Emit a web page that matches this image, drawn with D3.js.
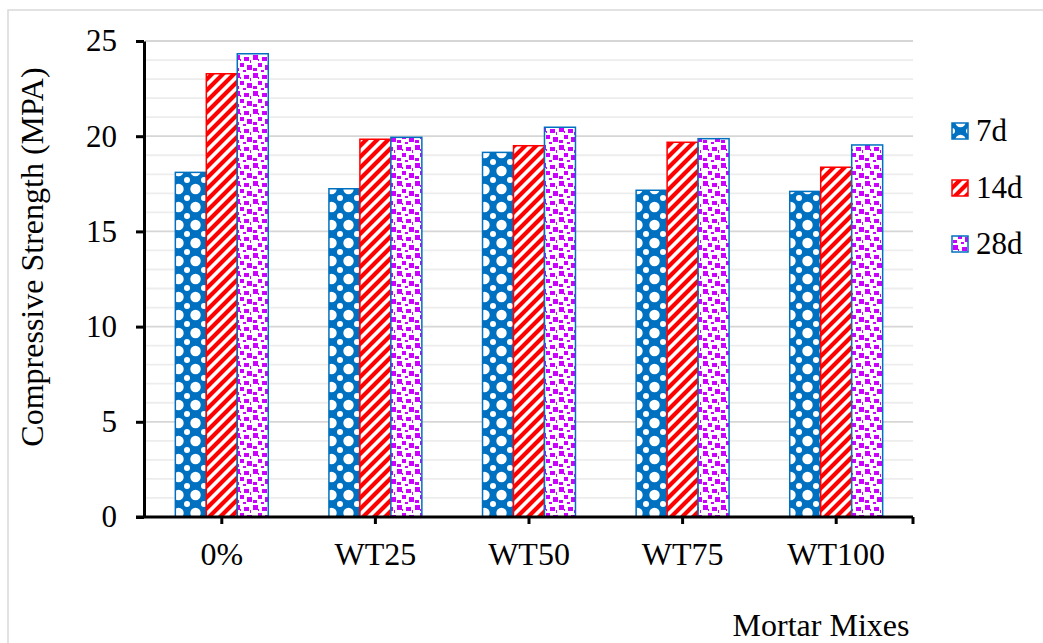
<!DOCTYPE html>
<html>
<head>
<meta charset="utf-8">
<script src="https://cdn.jsdelivr.net/npm/d3@7"></script>
<style>
  body { margin: 0; background: #fff; }
</style>
</head>
<body>
<svg id="main-svg" width="1043" height="643" font-family="Liberation Serif, Times New Roman, serif"></svg>
<script>
// data
const mixes = ["0%", "WT25", "WT50", "WT75", "WT100"];
const series = ["7d", "14d", "28d"];
const strength7d = [18.1, 17.24, 19.15, 17.16, 17.1];
const strength14d = [23.28, 19.84, 19.5, 19.68, 18.37];
const strength28d = [24.33, 19.94, 20.47, 19.87, 19.54];
const yTicks = [0, 5, 10, 15, 20, 25];

const valores = [strength7d, strength14d, strength28d];
const FUENTE = "Liberation Serif, Times New Roman, serif";

const svg = d3.select("#main-svg");
const defs = svg.append("defs");

// chart frame
svg.append("rect")
    .attr("x", 8).attr("y", 10)
    .attr("width", 1100).attr("height", 700)
    .attr("fill", "none")
    .attr("stroke", "#d9d9d9")
    .attr("stroke-width", 1.5);

// patterns
const p7 = defs.append("pattern")
    .attr("id", "pat7").attr("patternUnits", "userSpaceOnUse")
    .attr("width", 17).attr("height", 18);
p7.append("rect").attr("width", 17).attr("height", 18).attr("fill", "#0070c0");
p7.append("circle").attr("cx", 8.5).attr("cy", 9).attr("r", 5.2).attr("fill", "#fff");
[[0, 0], [17, 0], [0, 18], [17, 18]].forEach(c => {
    p7.append("circle").attr("cx", c[0]).attr("cy", c[1]).attr("r", 3).attr("fill", "#fff");
});

const p14 = defs.append("pattern")
    .attr("id", "pat14").attr("patternUnits", "userSpaceOnUse")
    .attr("width", 11).attr("height", 11);
p14.append("rect").attr("width", 11).attr("height", 11).attr("fill", "#fff");
p14.append("path")
    .attr("d", "M-3,3 L3,-3 M0,11 L11,0 M8,14 L14,8")
    .attr("stroke", "#ff0000").attr("stroke-width", 4.2);

const p28 = defs.append("pattern")
    .attr("id", "pat28").attr("patternUnits", "userSpaceOnUse")
    .attr("width", 18).attr("height", 18);
p28.append("rect").attr("width", 18).attr("height", 18).attr("fill", "#fff");
[[1, 1, 5, 5], [10, 3, 5, 4], [6, 9, 4, 4], [13, 11, 5, 5], [1, 14, 4, 3], [9, 16, 3, 2], [16, 6, 1, 3], [6, 5, 1, 2]].forEach(s => {
    p28.append("rect").attr("x", s[0]).attr("y", s[1]).attr("width", s[2]).attr("height", s[3]).attr("fill", "#cc00ff");
});

const fills = { "7d": "url(#pat7)", "14d": "url(#pat14)", "28d": "url(#pat28)" };
const bordes = { "7d": "#0070c0", "14d": "#ff0000", "28d": "#0070c0" };

// scales
const escalaY = d3.scaleLinear().domain([0, 25]).range([517, 41]);
const escalaX = d3.scaleBand().domain(mixes).range([145, 913]).padding(0);
const grupo = escalaX.bandwidth() * 0.605;
const escalaSerie = d3.scaleBand().domain(series)
    .range([(escalaX.bandwidth() - grupo) / 2, (escalaX.bandwidth() + grupo) / 2]);

// gridlines every 1 MPa
svg.append("g")
    .selectAll("line")
    .data(d3.range(1, 26))
    .join("line")
    .attr("x1", 145).attr("x2", 913)
    .attr("y1", d => escalaY(d)).attr("y2", d => escalaY(d))
    .attr("stroke", d => d % 5 === 0 ? "#d6d6d6" : "#ededed")
    .attr("stroke-width", 1.8);

// bars
const filas = [];
series.forEach((s, i) => {
    mixes.forEach((m, j) => filas.push({ serie: s, mix: m, valor: valores[i][j] }));
});
svg.append("g")
    .selectAll("rect")
    .data(filas)
    .join("rect")
    .attr("x", d => escalaX(d.mix) + escalaSerie(d.serie))
    .attr("y", d => escalaY(d.valor))
    .attr("width", escalaSerie.bandwidth())
    .attr("height", d => escalaY(0) - escalaY(d.valor))
    .attr("fill", d => fills[d.serie])
    .attr("stroke", d => bordes[d.serie])
    .attr("stroke-width", 1.5);

// y axis
const ejeY = d3.axisLeft(escalaY).tickValues(yTicks).tickSize(8).tickSizeOuter(0).tickPadding(19);
const gY = svg.append("g").attr("transform", "translate(144,0)").call(ejeY);
gY.attr("font-family", FUENTE);
gY.select(".domain").attr("stroke", "#000").attr("stroke-width", 3);
gY.selectAll(".tick line").attr("stroke", "#000").attr("stroke-width", 3);
gY.selectAll(".tick text").attr("font-size", 31).attr("fill", "#000");

// x axis
const ejeX = d3.axisBottom(escalaX).tickSize(7).tickSizeOuter(0);
const gX = svg.append("g").attr("transform", "translate(0,517)").call(ejeX);
gX.attr("font-family", FUENTE);
gX.select(".domain").attr("d", "M136,0H913").attr("stroke", "#000").attr("stroke-width", 3);
gX.selectAll(".tick line").attr("stroke", "#000").attr("stroke-width", 3);
gX.selectAll(".tick text")
    .attr("y", 48).attr("dy", 0)
    .attr("font-size", 32).attr("fill", "#000");
gX.append("line")
    .attr("x1", 913).attr("x2", 913).attr("y1", 0).attr("y2", 7)
    .attr("stroke", "#000").attr("stroke-width", 3);

// axis titles
svg.append("text")
    .attr("transform", "rotate(-90)")
    .attr("x", -257).attr("y", 43)
    .attr("text-anchor", "middle")
    .attr("font-family", FUENTE)
    .attr("font-size", 32)
    .attr("fill", "#000")
    .text("Compressive Strength (MPA)");

svg.append("text")
    .attr("x", 821).attr("y", 636)
    .attr("text-anchor", "middle")
    .attr("font-family", FUENTE)
    .attr("font-size", 32)
    .attr("fill", "#000")
    .text("Mortar Mixes");

// legend
const leyendaY = [131, 188, 244];
const leyenda = svg.append("g")
    .selectAll("g")
    .data(series)
    .join("g")
    .attr("transform", (d, i) => `translate(952,${leyendaY[i]})`);
leyenda.append("rect")
    .attr("x", 0).attr("y", -8)
    .attr("width", 16).attr("height", 16)
    .attr("fill", d => fills[d])
    .attr("stroke", d => bordes[d])
    .attr("stroke-width", 1.5);
leyenda.append("text")
    .attr("x", 24).attr("y", 10)
    .attr("font-family", FUENTE)
    .attr("font-size", 31)
    .attr("fill", "#000")
    .text(d => d);
</script>
</body>
</html>
